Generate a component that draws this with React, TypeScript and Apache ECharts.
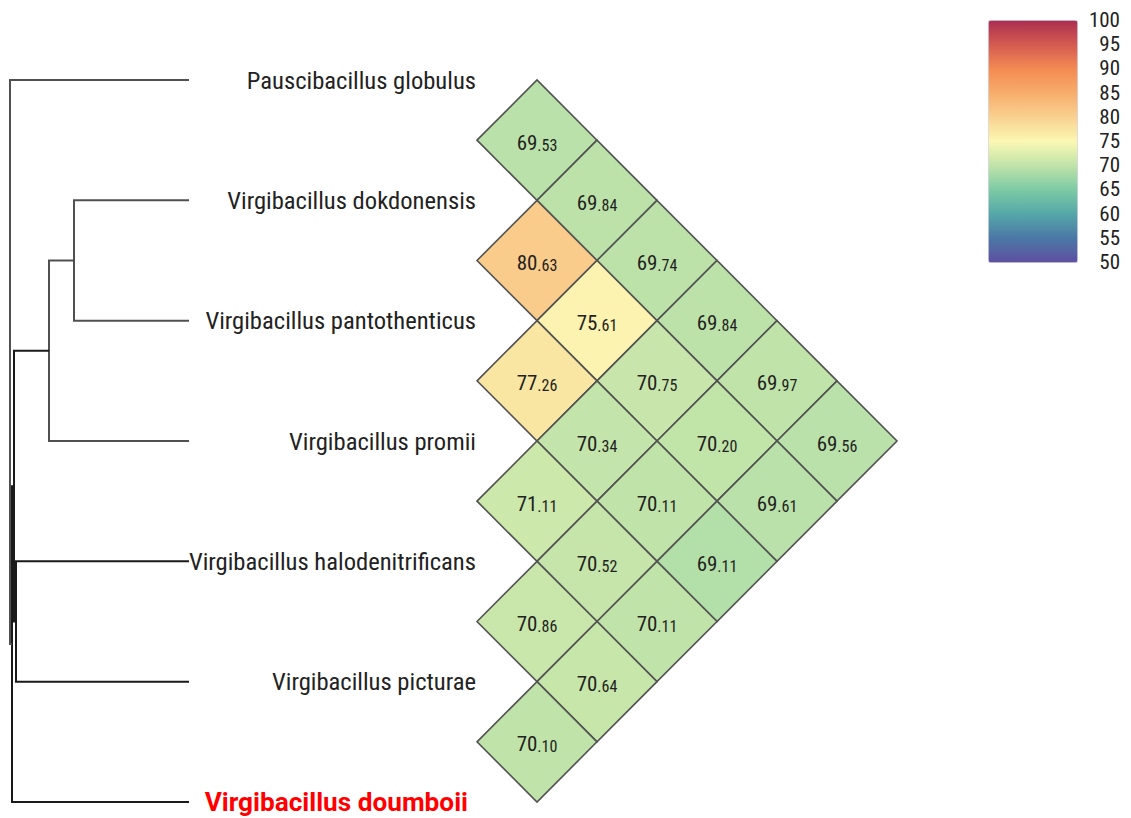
import React, { useEffect, useRef } from 'react';
import * as echarts from 'echarts';

// Species in dendrogram (leaf) order, top to bottom
const SPECIES = [
  'Pauscibacillus globulus',
  'Virgibacillus dokdonensis',
  'Virgibacillus pantothenticus',
  'Virgibacillus promii',
  'Virgibacillus halodenitrificans',
  'Virgibacillus picturae',
  'Virgibacillus doumboii',
];
const HIGHLIGHT_INDEX = 6;

// Pairwise values: row i lists values against species i+1 .. 6
const ROW_0 = [69.53, 69.84, 69.74, 69.84, 69.97, 69.56];
const ROW_1 = [80.63, 75.61, 70.75, 70.2, 69.61];
const ROW_2 = [77.26, 70.34, 70.11, 69.11];
const ROW_3 = [71.11, 70.52, 70.11];
const ROW_4 = [70.86, 70.64];
const ROW_5 = [70.1];
const ROWS = [ROW_0, ROW_1, ROW_2, ROW_3, ROW_4, ROW_5];

// Dendrogram merges: [left, right, height]; indices >= 7 are earlier merges
const LINKAGE = [
  [1, 2, 115],
  [7, 3, 140],
  [4, 5, 173],
  [8, 9, 175],
  [10, 6, 177],
  [0, 11, 179],
];
const TREE_HEIGHT = 179;

// Colour scale
const SCALE_MIN = 50;
const SCALE_MAX = 100;
const SCALE_STEP = 5;
const SCALE_COLORS = [
  '#5e4fa2',
  '#4b78a6',
  '#55a7a8',
  '#7ccaa4',
  '#bfe3a9',
  '#fbf8b3',
  '#f9d190',
  '#f7ad6c',
  '#f38a52',
  '#d45b50',
  '#ab2e50',
];

const FONT = "'Roboto Condensed', 'Liberation Sans Narrow', 'Arial Narrow', 'DejaVu Sans Condensed', Roboto, sans-serif";

export default function App() {
  const ref = useRef<HTMLDivElement>(null);

  useEffect(() => {
    const chart = echarts.init(ref.current as HTMLDivElement, null, { renderer: 'svg' });

    const heat: number[][] = [];
    ROWS.forEach((row, i) => row.forEach((v, k) => heat.push([i, i + k + 1, v])));

    const nodeX: number[] = SPECIES.map(() => 0);
    const nodeY: number[] = SPECIES.map((_, i) => i);
    const links: any[] = [];
    LINKAGE.forEach(([a, b, h], idx) => {
      const dark = idx >= 2 && idx <= 4;
      links.push({
        coords: [
          [nodeX[a], nodeY[a]],
          [h, nodeY[a]],
          [h, nodeY[b]],
          [nodeX[b], nodeY[b]],
        ],
        lineStyle: { color: dark ? '#1a1a1a' : '#505050', width: 2, opacity: 1 },
      });
      nodeX.push(h);
      nodeY.push((nodeY[a] + nodeY[b]) / 2);
    });

    const option: any = {
      animation: false,
      grid: [
        { left: 10, width: 179, top: 80, height: 722 },
        { left: 477, width: 420, top: 80, height: 722 },
        { left: 988, width: 89, top: 20, height: 242 },
      ],
      xAxis: [
        { gridIndex: 0, type: 'value', min: 0, max: TREE_HEIGHT, inverse: true, show: false },
        { gridIndex: 1, type: 'value', min: 0, max: SPECIES.length, show: false },
        { gridIndex: 2, type: 'value', min: 0, max: 1, show: false },
      ],
      yAxis: [
        { gridIndex: 0, type: 'value', min: 0, max: SPECIES.length - 1, inverse: true, show: false },
        {
          gridIndex: 1,
          type: 'value',
          min: 0,
          max: SPECIES.length - 1,
          interval: 1,
          inverse: true,
          axisLine: { show: false },
          axisTick: { show: false },
          splitLine: { show: false },
          axisLabel: {
            margin: 1,
            fontSize: 24.6,
            fontFamily: FONT,
            color: '#222',
            formatter: (v: number) =>
              v === HIGHLIGHT_INDEX ? `{hl|${SPECIES[v]}}` : SPECIES[v],
            rich: {
              hl: {
                color: '#ff0000',
                fontWeight: 'bold',
                fontSize: 26.2,
                fontFamily: 'Roboto, sans-serif',
                padding: [0, 8, 0, 0],
              },
            },
          },
        },
        {
          gridIndex: 2,
          type: 'value',
          min: SCALE_MIN,
          max: SCALE_MAX,
          interval: SCALE_STEP,
          position: 'right',
          axisLine: { show: false },
          axisTick: { show: false },
          splitLine: { show: false },
          axisLabel: {
            align: 'right',
            margin: 43,
            fontSize: 21,
            fontFamily: FONT,
            color: '#222',
          },
        },
      ],
      visualMap: {
        type: 'continuous',
        min: SCALE_MIN,
        max: SCALE_MAX,
        seriesIndex: 1,
        dimension: 2,
        inRange: { color: SCALE_COLORS },
        left: 988,
        top: 20,
        itemWidth: 89,
        itemHeight: 242,
        padding: 0,
        calculable: false,
        hoverLink: false,
        borderColor: '#ddd6ee',
        borderWidth: 1,
      },
      series: [
        {
          type: 'lines',
          coordinateSystem: 'cartesian2d',
          xAxisIndex: 0,
          yAxisIndex: 0,
          polyline: true,
          silent: true,
          lineStyle: { width: 2, opacity: 1 },
          data: links,
        },
        {
          type: 'custom',
          coordinateSystem: 'cartesian2d',
          xAxisIndex: 1,
          yAxisIndex: 1,
          data: heat,
          renderItem: (params: any, api: any) => {
            const i = api.value(0);
            const j = api.value(1);
            const v = api.value(2);
            const d = j - i;
            const m = (i + j) / 2;
            const pts = [
              api.coord([d - 1, m]),
              api.coord([d, m - 0.5]),
              api.coord([d + 1, m]),
              api.coord([d, m + 0.5]),
            ];
            const c = api.coord([d, m]);
            const parts = Number(v).toFixed(2).split('.');
            return {
              type: 'group',
              children: [
                {
                  type: 'polygon',
                  shape: { points: pts },
                  style: { fill: api.visual('color'), stroke: '#525252', lineWidth: 1.6 },
                },
                {
                  type: 'text',
                  x: c[0],
                  y: c[1] + 2,
                  style: {
                    text: `{a|${parts[0]}}{b|.${parts[1]}}`,
                    align: 'center',
                    verticalAlign: 'middle',
                    rich: {
                      a: { fontSize: 21, fontFamily: FONT, fill: '#222', color: '#222', lineHeight: 22, verticalAlign: 'bottom' },
                      b: { fontSize: 16, fontFamily: FONT, fill: '#222', color: '#222', lineHeight: 18, verticalAlign: 'bottom' },
                    },
                  },
                },
              ],
            };
          },
        },
        {
          type: 'scatter',
          xAxisIndex: 2,
          yAxisIndex: 2,
          data: [],
        },
      ],
    };

    chart.setOption(option);
    return () => chart.dispose();
  }, []);

  return (
    <div
      ref={ref}
      style={{ position: 'absolute', left: 0, top: 0, width: 1131, height: 818 }}
    />
  );
}
